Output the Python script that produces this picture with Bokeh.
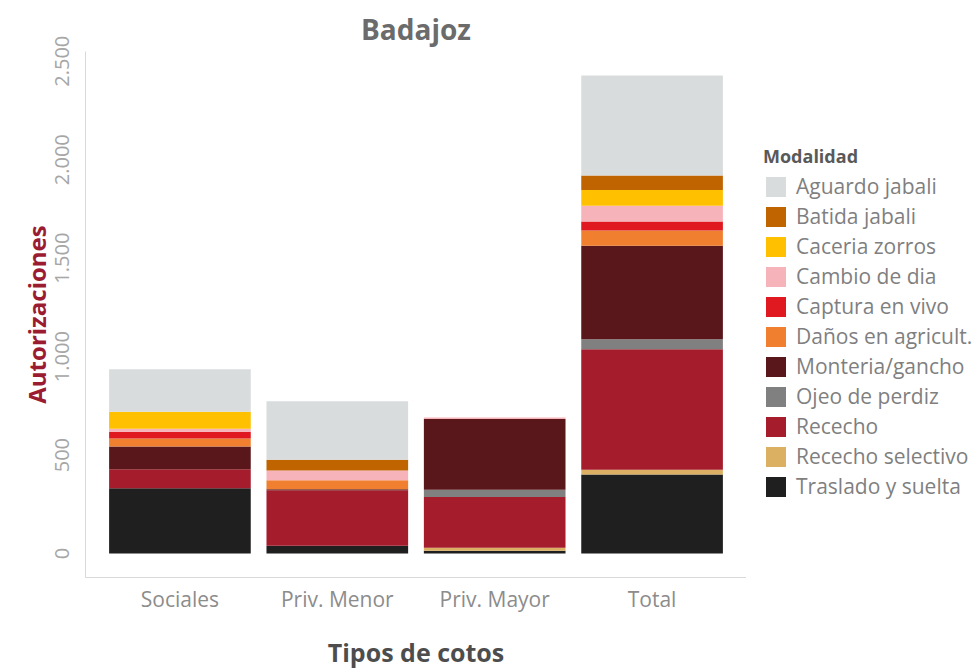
from bokeh.plotting import figure
from bokeh.layouts import row
from bokeh.models import (ColumnDataSource, FactorRange, Range1d, FixedTicker,
                          Legend, LegendItem)
from bokeh.embed import file_html
from bokeh.resources import INLINE

# ---------------- data ----------------
categories = ["Sociales", "Priv. Menor", "Priv. Mayor", "Total"]

# modalities listed top of stack -> bottom of stack (legend order)
modalidades = ["Aguardo jabali", "Batida jabali", "Caceria zorros", "Cambio de dia",
               "Captura en vivo", "Daños en agricult.", "Monteria/gancho",
               "Ojeo de perdiz", "Rececho", "Rececho selectivo", "Traslado y suelta"]

aguardo = [216, 297, 0, 508]
batida = [0, 55, 0, 74]
caceria = [86, 0, 0, 80]
cambio = [15, 50, 7, 80]
captura = [35, 0, 0, 45]
danos = [40, 45, 0, 78]
monteria = [116, 5, 360, 475]
ojeo = [0, 0, 37, 50]
rececho = [96, 282, 257, 612]
selectivo = [0, 0, 15, 25]
traslado = [332, 40, 15, 401]

colores = ["#d9dcdc", "#c06400", "#ffc000", "#f6b3ba", "#e0181f", "#f07f2f",
           "#5a171b", "#808080", "#a51d2d", "#dcb062", "#1f1f1f"]

y_ticks = [0, 500, 1000, 1500, 2000, 2500]
y_tick_labels = ["0", "500", "1.000", "1.500", "2.000", "2.500"]

# ---------------- build ----------------
series = [aguardo, batida, caceria, cambio, captura, danos, monteria, ojeo,
          rececho, selectivo, traslado]
keys = ["m%d" % i for i in range(len(series))]
data = {"cat": categories}
for k, v in zip(keys, series):
    data[k] = v
source = ColumnDataSource(data)

totals = [sum(col) for col in zip(*series)]
ymax = max(totals)
pad = 0.05 * ymax

FONT = "Open Sans"

p = figure(x_range=FactorRange(factors=categories, range_padding=0.1,
                               range_padding_units="absolute"),
           y_range=Range1d(-pad, ymax + pad),
           width=746, height=671, output_backend="svg", toolbar_location=None,
           min_border_left=85, min_border_right=0, min_border_top=51,
           min_border_bottom=89, title="Badajoz")

p.title.align = "center"
p.title.text_font = FONT
p.title.text_font_size = "28px"
p.title.text_font_style = "bold"
p.title.text_color = "#6b6b6b"
p.title.standoff = 8

# stack bottom -> top
renderers = p.vbar_stack(keys[::-1], x="cat", width=0.9, source=source,
                         fill_color=colores[::-1], line_color=None)

p.outline_line_color = None
p.xgrid.grid_line_color = None
p.ygrid.grid_line_color = None
p.background_fill_color = "white"
p.border_fill_color = "white"

# y axis
yax = p.yaxis[0]
yax.ticker = FixedTicker(ticks=y_ticks)
yax.major_label_overrides = {t: l for t, l in zip(y_ticks, y_tick_labels)}
yax.major_label_orientation = "vertical"
yax.major_label_text_font = FONT
yax.major_label_text_font_size = "20px"
yax.major_label_text_color = "#a6a6a6"
yax.major_label_standoff = 16
yax.major_tick_out = 0
yax.major_tick_in = 0
yax.major_tick_line_color = None
yax.minor_tick_line_color = None
yax.axis_line_color = "#d9d9d9"
yax.axis_label = "Autorizaciones"
yax.axis_label_text_font = FONT
yax.axis_label_text_font_size = "24px"
yax.axis_label_text_font_style = "bold"
yax.axis_label_text_color = "#9b1c31"
yax.axis_label_standoff = 0

# x axis
xax = p.xaxis[0]
xax.major_label_text_font = FONT
xax.major_label_text_font_size = "21px"
xax.major_label_text_color = "#8c8c8c"
xax.major_label_standoff = 7
xax.major_tick_out = 0
xax.major_tick_in = 0
xax.major_tick_line_color = None
xax.minor_tick_line_color = None
xax.axis_line_color = "#d9d9d9"
xax.axis_label = "Tipos de cotos"
xax.axis_label_text_font = FONT
xax.axis_label_text_font_size = "25px"
xax.axis_label_text_font_style = "bold"
xax.axis_label_text_color = "#4d4d4d"
xax.axis_label_standoff = 19

# ---------------- legend panel ----------------
leg = figure(width=234, height=671, output_backend="svg", toolbar_location=None,
             x_range=Range1d(0, 1), y_range=Range1d(0, 1),
             min_border_left=0, min_border_right=0, min_border_top=0,
             min_border_bottom=0)
leg.axis.visible = False
leg.grid.visible = False
leg.outline_line_color = None
leg.background_fill_color = "white"
leg.border_fill_color = "white"

# swatch-only renderers (a single NaN row: nothing is drawn in the panel)
nan = float("nan")
items = []
for m, c in zip(modalidades, colores):
    src = ColumnDataSource(data=dict(x=[nan], top=[nan]))
    r = leg.vbar(x="x", top="top", width=0.5, source=src, fill_color=c,
                 line_color=None)
    items.append(LegendItem(label=m, renderers=[r], index=0))

legend = Legend(items=items, title="Modalidad", location=(17, 77),
                padding=0, margin=0, spacing=2, glyph_width=25, glyph_height=25,
                label_standoff=8, border_line_color=None,
                background_fill_alpha=0)
legend.title_text_font = FONT
legend.title_text_font_size = "18px"
legend.title_text_font_style = "bold"
legend.title_text_color = "#595959"
legend.title_standoff = 4
legend.label_text_font = FONT
legend.label_text_font_size = "21px"
legend.label_text_color = "#7f7f7f"
leg.add_layout(legend)

layout = row(p, leg, spacing=0)
open("out.html", "w").write(file_html(layout, INLINE))
